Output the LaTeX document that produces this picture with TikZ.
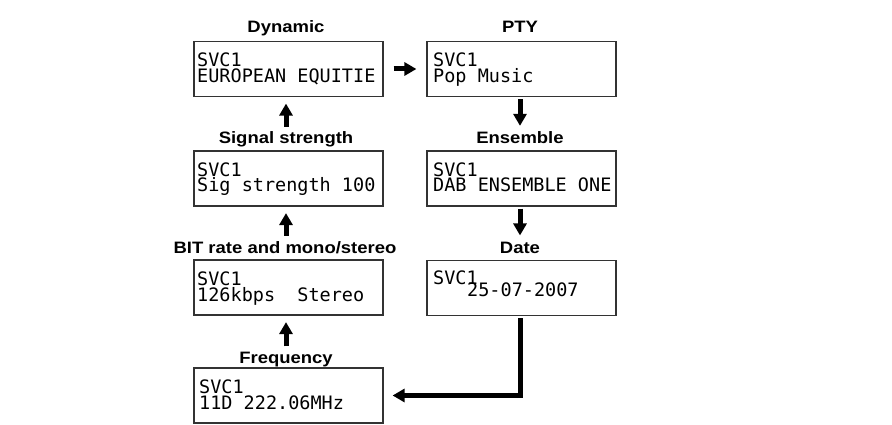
\documentclass[tikz,border=0pt]{standalone}
\usepackage{fontspec}
\setmainfont{Liberation Sans}
\newfontfamily\lcdfont{DejaVu Sans Mono}
\newfontfamily\ttlfont[FakeStretch=1.12]{Liberation Sans}
\usetikzlibrary{arrows.meta}
\tikzset{
  lcdbox/.style={draw=black!80, line width=1.2pt, minimum width=189pt, minimum height=55pt, inner sep=0pt},
  lcdtext/.style={anchor=base west, inner sep=0pt, font=\lcdfont\fontsize{18.5}{16}\selectfont},
  ttl/.style={anchor=base, inner sep=0pt, font=\ttlfont\bfseries\fontsize{16.5}{18}\selectfont},
  thickarrow/.style={line width=5pt, -{Triangle[length=12pt,width=13pt]}},
}
\begin{document}
\begin{tikzpicture}[x=1pt,y=-1pt]
\useasboundingbox (0,0) rectangle (892,425);
% boxes
\node[lcdbox] (dyn) at (288.5,69) {};
\node[lcdbox] (pty) at (521.5,69) {};
\node[lcdbox] (sig) at (288.5,178.5) {};
\node[lcdbox] (ens) at (521.5,178.5) {};
\node[lcdbox] (bit) at (288.5,287.5) {};
\node[lcdbox] (date) at (521.5,288) {};
\node[lcdbox] (freq) at (288.5,395.5) {};
% titles
\node[ttl] (dynT) at (286,33) {Dynamic};
\node[ttl] (ptyT) at (520,33) {PTY};
\node[ttl] (sigT) at (286,144) {Signal strength};
\node[ttl] (ensT) at (520,144) {Ensemble};
\node[ttl] (bitT) at (285,253) {BIT rate and mono/stereo};
\node[ttl] (dateT) at (520,253) {Date};
\node[ttl] (freqT) at (286,363) {Frequency};
% LCD texts
\node[lcdtext] (dyn1) at (197,67) {SVC1};
\node[lcdtext] (dyn2) at (197,83) {EUROPEAN EQUITIE};
\node[lcdtext] (pty1) at (433,67) {SVC1};
\node[lcdtext] (pty2) at (433,83) {Pop Music};
\node[lcdtext] (sig1) at (197,176) {SVC1};
\node[lcdtext] (sig2) at (197,192) {Sig strength 100};
\node[lcdtext] (ens1) at (433,176) {SVC1};
\node[lcdtext] (ens2) at (433,192) {DAB ENSEMBLE ONE};
\node[lcdtext] (bit1) at (197,285) {SVC1};
\node[lcdtext] (bit2) at (197,301) {126kbps\ \ Stereo};
\node[lcdtext] (date1) at (433,284) {SVC1};
\node[lcdtext] (date2) at (467,296) {25-07-2007};
\node[lcdtext] (freq1) at (199,393) {SVC1};
\node[lcdtext] (freq2) at (199,409) {11D 222.06MHz};
% arrows
\draw[thickarrow, shorten <=10pt, shorten >=10pt] (dyn.east) -- (pty.west);
\draw[thickarrow, shorten <=5pt, shorten >=6.5pt] (sigT.north) -- (sigT.north |- dyn.south);
\draw[thickarrow, shorten <=5pt, shorten >=6.5pt] (bitT.north -| sigT.north) -- (sigT.north |- sig.south);
\draw[thickarrow, shorten <=5pt, shorten >=6.5pt] (freqT.north) -- (freqT.north |- bit.south);
\draw[thickarrow, shorten <=2pt, shorten >=6pt] (ensT.north |- pty.south) -- (ensT.north);
\draw[thickarrow, shorten <=2pt, shorten >=6pt] (dateT.north |- ens.south) -- (dateT.north);
\draw[thickarrow, shorten <=2pt, shorten >=9pt] (dateT.north |- date.south) |- (freq.east);
\end{tikzpicture}
\end{document}
